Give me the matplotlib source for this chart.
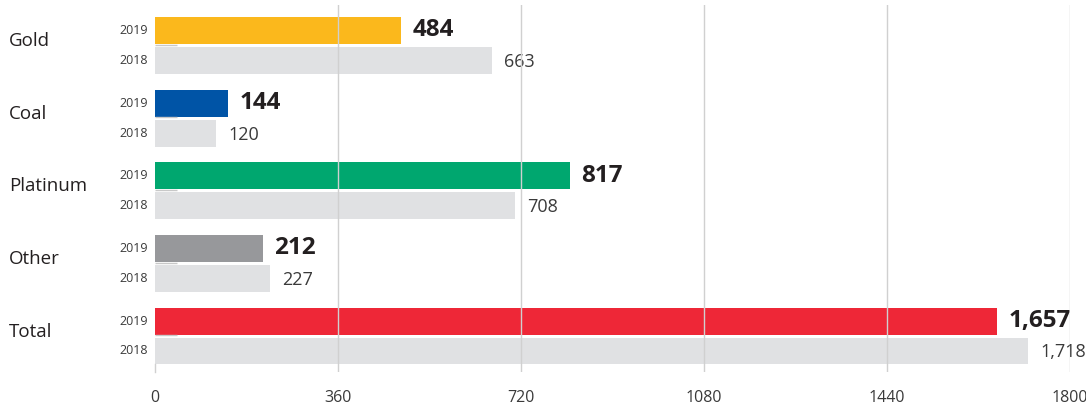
import matplotlib
matplotlib.use("Agg")
import matplotlib.pyplot as plt
import numpy as np

categories = ["Gold", "Coal", "Platinum", "Other", "Total"]
values_2019 = [484, 144, 817, 212, 1657]
values_2018 = [663, 120, 708, 227, 1718]
labels_2019 = ["484", "144", "817", "212", "1,657"]
labels_2018 = ["663", "120", "708", "227", "1,718"]
colors_2019 = ["#FBB81C", "#0054A6", "#00A76F", "#97989B", "#EE2737"]
grey = "#E0E1E3"
text_col = "#231F20"
xticks = [0, 360, 720, 1080, 1440, 1800]

plt.rcParams['font.family'] = ['Open Sans', 'DejaVu Sans']

fig = plt.figure(figsize=(10.86, 4.09), dpi=100)
ax = fig.add_axes([0.1427, 0.0905, 0.8426, 0.8973])

y = np.arange(len(categories))
off = 0.206
h = 0.371
ax.barh(y - off, values_2019, height=h, color=colors_2019, zorder=1)
ax.barh(y + off, values_2018, height=h, color=grey, zorder=1)
# faint little marker between the two bars of each group
ax.hlines(y - 0.01, 0, 43, color="#C8C8C8", lw=1, zorder=2)

for i in range(len(categories)):
    ax.text(values_2019[i] + 22, y[i] - off, labels_2019[i], va='center', ha='left',
            fontsize=17.5, fontweight='bold', color=text_col)
    ax.text(values_2018[i] + 24, y[i] + off + 0.02, labels_2018[i], va='center', ha='left',
            fontsize=13, color="#3a3a3a")
    # year labels and category names
    ax.text(-14, y[i] - off, "2019", va='center', ha='right', fontsize=9, color="#3a3a3a")
    ax.text(-14, y[i] + off, "2018", va='center', ha='right', fontsize=9, color="#3a3a3a")
    ax.text(-287, y[i] - 0.06, categories[i], va='center', ha='left', fontsize=13.5, color=text_col)

ax.set_xlim(0, 1800)
ax.set_ylim(4.495, -0.557)
ax.set_xticks(xticks)
ax.set_xticklabels([str(t) for t in xticks], fontsize=11.5, color="#3a3a3a")
ax.set_yticks([])
ax.tick_params(axis='x', length=0, pad=13)
for t in xticks[1:]:
    ax.axvline(t, color="#D0D0D0", lw=1, zorder=3)
for s in ["top", "right", "bottom"]:
    ax.spines[s].set_visible(False)
ax.spines["left"].set_color("#D0D0D0")
ax.spines["left"].set_linewidth(1)
ax.spines["left"].set_bounds(4.39, 4.495)

fig.savefig("out.png", dpi=100)
